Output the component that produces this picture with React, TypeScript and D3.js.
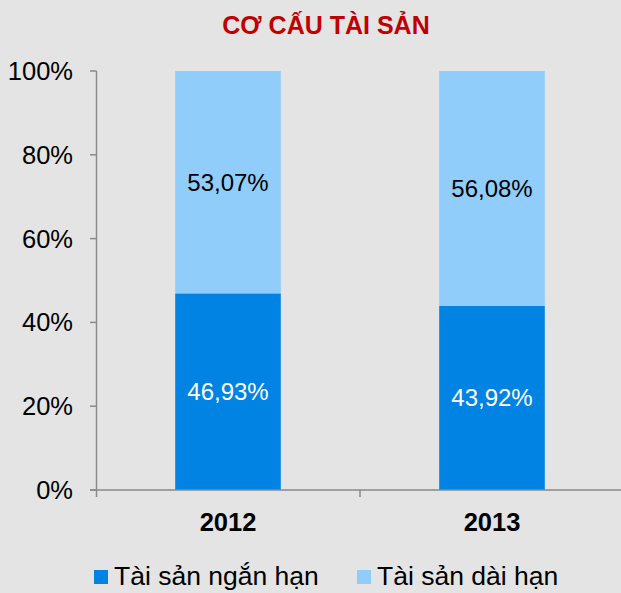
import React from "react";
import * as d3 from "d3";

const categories = ["2012", "2013"];
const shortTerm = [46.93, 43.92];
const longTerm = [53.07, 56.08];
const seriesNames = ["Tài sản ngắn hạn", "Tài sản dài hạn"];
const yTicks = [0, 20, 40, 60, 80, 100];
const title = "CƠ CẤU TÀI SẢN";

const W = 621;
const H = 593;
const colors = ["#0083E3", "#90CDFA"];
const font = "Arial, 'Liberation Sans', sans-serif";

if (typeof document !== "undefined") {
  document.body.style.margin = "0";
  document.body.style.background = "#E4E4E4";
}

const fmt = (v: number) => v.toFixed(2).replace(".", ",") + "%";

export default function App() {
  const x = d3.scaleBand<string>().domain(categories).range([96, 624]).paddingInner(0).paddingOuter(0);
  const y = d3.scaleLinear().domain([0, 100]).range([490, 71]);
  const bw = x.bandwidth() * 0.4;

  const stacked = d3.stack<any>().keys(["s", "l"])(
    categories.map((c, i) => ({ c, s: shortTerm[i], l: longTerm[i] }))
  );

  return (
    <svg width={W} height={H} style={{ display: "block", background: "#E4E4E4" }}>
      <rect x={0} y={0} width={W} height={H} fill="#E4E4E4" />
      <text x={326} y={34} textAnchor="middle" fontFamily={font} fontWeight="bold" fontSize={25} fill="#C00000">
        {title}
      </text>
      {stacked.map((layer, li) =>
        layer.map((d, i) => {
          const cx = (x(categories[i]) as number) + x.bandwidth() / 2;
          const y0 = y(d[1]);
          const y1 = y(d[0]);
          return (
            <g key={li + "-" + i}>
              <rect x={cx - bw / 2} y={y0} width={bw} height={y1 - y0} fill={colors[li]} />
              <text
                x={cx}
                y={(y0 + y1) / 2}
                dy="0.35em"
                textAnchor="middle"
                fontFamily={font}
                fontSize={24}
                fill={li === 0 ? "#FFFFFF" : "#000000"}
              >
                {fmt(d[1] - d[0])}
              </text>
            </g>
          );
        })
      )}
      {/* y axis */}
      <line x1={96.5} x2={96.5} y1={71} y2={497} stroke="#8A8A8A" strokeWidth={1.5} />
      {yTicks.map((t) => (
        <g key={t}>
          <line x1={90} x2={96.5} y1={y(t)} y2={y(t)} stroke="#8A8A8A" strokeWidth={1.5} />
          <text x={73} y={y(t)} dy="0.35em" textAnchor="end" fontFamily={font} fontSize={25.5} fill="#000">
            {t + "%"}
          </text>
        </g>
      ))}
      {/* x axis */}
      <line x1={90} x2={W} y1={490} y2={490} stroke="#8A8A8A" strokeWidth={1.5} />
      {categories.map((c, i) => (
        <g key={c}>
          {i > 0 && (
            <line x1={x(c) as number} x2={x(c) as number} y1={490} y2={497} stroke="#8A8A8A" strokeWidth={1.5} />
          )}
          <text
            x={(x(c) as number) + x.bandwidth() / 2}
            y={531}
            textAnchor="middle"
            fontFamily={font}
            fontWeight="bold"
            fontSize={25.5}
            fill="#000"
          >
            {c}
          </text>
        </g>
      ))}
      {/* legend */}
      {seriesNames.map((n, i) => {
        const lx = i === 0 ? 94 : 357;
        return (
          <g key={n}>
            <rect x={lx} y={570} width={14} height={14} fill={colors[i]} />
            <text x={lx + 20} y={585} fontFamily={font} fontSize={26.5} fill="#000">
              {n}
            </text>
          </g>
        );
      })}
    </svg>
  );
}
